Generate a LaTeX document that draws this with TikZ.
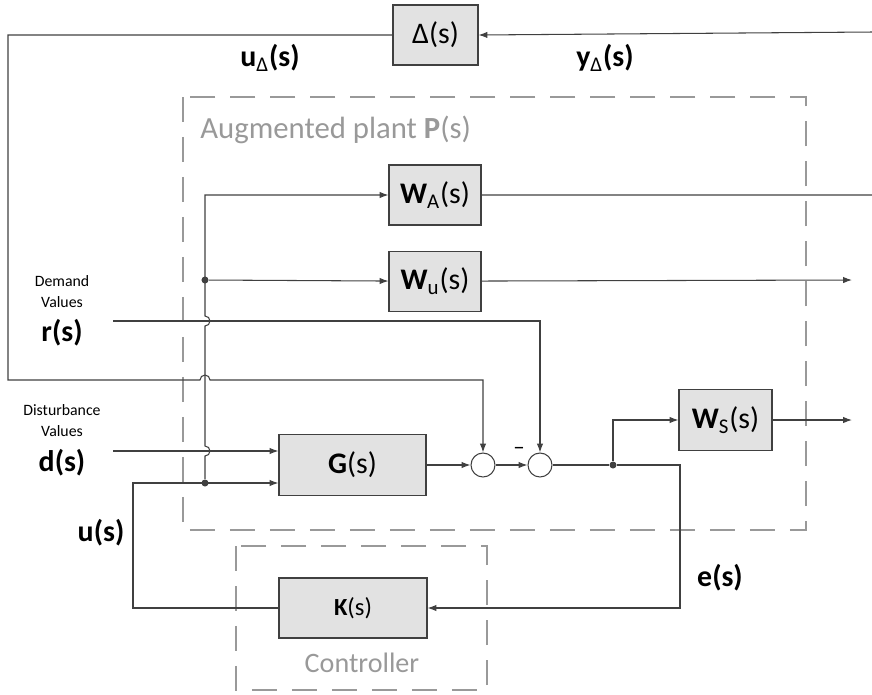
\documentclass[tikz,border=0pt]{standalone}
\usepackage{fontspec}
\setmainfont{Carlito}
\usepackage{tikz}
\usetikzlibrary{arrows.meta,positioning}
\definecolor{linegray}{HTML}{404040}
\definecolor{boxgray}{HTML}{E2E2E2}
\definecolor{framegray}{HTML}{999999}
\begin{document}
\begin{tikzpicture}[x=0.02cm, y=-0.02cm, line width=0.6pt, >={Latex[length=5pt,width=3.6pt]},
  block/.style={rectangle, draw=linegray, fill=boxgray, minimum height=1.2cm, font=\fontsize{17}{20}\selectfont},
  sumnode/.style={circle, draw=linegray, minimum size=0.48cm, inner sep=0pt},
  junction/.style={circle, fill=linegray, inner sep=0pt, minimum size=4pt},
  groupframe/.style={draw=framegray, line width=0.9pt, dash pattern=on 0.5cm off 0.3cm},
  sig/.style={font=\fontsize{17}{20}\selectfont\bfseries},
  note/.style={font=\fontsize{9}{12}\selectfont, align=center}]
  \useasboundingbox (0,0) rectangle (872,694);

  \draw[groupframe] (183,97) rectangle (806,530);
  \draw[groupframe] (236,546) rectangle (487,690);
  \node (plantlabel) [anchor=west, text=framegray, font=\fontsize{17.5}{20}\selectfont] at (194,130) {Augmented plant \textbf{P}(s)};
  \node (ctrllabel) [text=framegray, font=\fontsize{16}{19}\selectfont] at (362,663) {Controller};

  \node (delta) [block, minimum width=1.7cm] at (435.5,35) {Δ(s)};
  \node (wa) [block, minimum width=1.84cm] at (435,195) {\textbf{W}\textsubscript{A}(s)};
  \node (wu) [block, minimum width=1.84cm, below=0.5cm of wa] {\textbf{W}\textsubscript{u}(s)};
  \node (g) [block, minimum width=2.94cm, minimum height=1.22cm] at (352.5,465) {\textbf{G}(s)};
  \node (ws) [block, minimum width=1.86cm, minimum height=1.22cm] at (725.5,420) {\textbf{W}\textsubscript{S}(s)};
  \node (k) [block, minimum width=2.96cm, font=\fontsize{14}{17}\selectfont] at (353,608) {\textbf{K}(s)};
  \node (s1) [sumnode] at (483,465) {};
  \node (s2) [sumnode] at (540,465) {};
  \node (minus) [font=\fontsize{13}{15}\selectfont] at (519,451) {–};

  \node (ubus) [junction] at (205,483) {};
  \node (wubus) [junction] at (205,280) {};
  \node (ebr) [junction] at (613,465) {};
  \coordinate (rin) at (113,321);
  \coordinate (din) at (113,451);
  \coordinate (uleft) at (133,483);
  \coordinate (ecorner) at (680,465);
  \coordinate (wsout) at (852,420);
  \coordinate (wuout) at (852,280);
  \coordinate (loopright) at (873,32);
  \coordinate (loopleft) at (8,380);

  \node (udelta) [sig] at (270,58) {u\textsubscript{\textmd{Δ}}(s)};
  \node (ydelta) [sig] at (605,58) {y\textsubscript{\textmd{Δ}}(s)};
  \node (demand) [note] at (62,292) {Demand\\Values};
  \node (rlabel) [sig] at (62,333) {r(s)};
  \node (disturb) [note] at (62,421) {Disturbance\\Values};
  \node (dlabel) [sig] at (62,463) {d(s)};
  \node (ulabel) [sig] at (101,533) {u(s)};
  \node (elabel) [sig] at (720,578) {e(s)};

  \draw[linegray, ->] (g.east) -- (s1);
  \draw[linegray, ->] (s1) -- (s2);
  \draw[linegray, ->] (s2) -- (ebr) -- (ecorner) |- (k.east);
  \draw[linegray, ->] (ebr) |- (ws.west);
  \draw[linegray, ->] (ws.east) -- (wsout);
  \draw[linegray, ->] (wu.east) -- (wuout);
  \draw[linegray, ->] (wa.east) -| (loopright) -- (delta.east);
  \draw[linegray, ->] (delta.west) -| (loopleft) -- (200,380) arc (180:0:0.1cm) -| (s1.north);
  \draw[linegray, ->] (rin) -| (s2.north);
  \draw[linegray, ->] (din) -- (g.west |- din);
  \draw[linegray, ->] (k.west) -| (uleft) -- (g.west |- ubus);
  \draw[linegray, ->] (ubus) -- (205,456) arc (-90:90:0.1cm) -- (205,326) arc (-90:90:0.1cm) -- (wa.west -| ubus) -- (wa.west);
  \draw[linegray, ->] (wubus) -- (wu.west);
\end{tikzpicture}
\end{document}
